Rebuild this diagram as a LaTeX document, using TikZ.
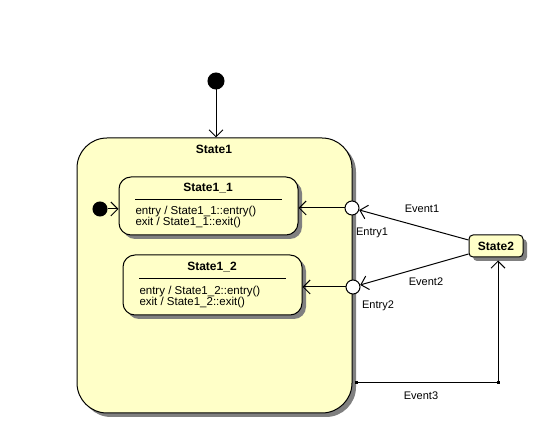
\documentclass[tikz,border=0pt]{standalone}
\usepackage{fontspec}
\setmainfont{Liberation Sans}
\usetikzlibrary{arrows.meta,shadows}
\definecolor{stfill}{RGB}{255,255,200}
\definecolor{shgray}{RGB}{128,128,128}
\begin{document}
\begin{tikzpicture}[x=1pt,y=-1pt,line width=1pt,
  font=\fontsize{11}{11}\selectfont,
  state/.style={draw, fill=stfill, inner sep=0pt,
    drop shadow={shadow xshift=4pt, shadow yshift=-4pt, fill=shgray, opacity=1}},
  title/.style={font=\fontsize{12}{12}\selectfont\bfseries},
  body/.style={anchor=west, align=left, inner sep=0pt, font=\fontsize{11.5}{11}\selectfont},
  initdot/.style={circle, fill=black, draw, inner sep=0pt},
  entrypt/.style={circle, fill=white, draw, minimum size=14pt, inner sep=0pt},
  arr/.style={-{Straight Barb[length=7pt,width=14pt]}},
  lbl/.style={inner sep=0pt}]
\useasboundingbox (0,0) rectangle (539,430);
% states
\node[state, rounded corners=30pt, minimum width=275pt, minimum height=275pt] (s1) at (214.5,275.5) {};
\node[title] (t1) at (214,149) {State1};
\node[state, rounded corners=12pt, minimum width=179pt, minimum height=58pt] (s11) at (208.5,206) {};
\node[title] (t11) at (208,188) {State1\_1};
\draw (135,200) -- (282,200);
\node[body] (b11) at (135,217.5) {entry / State1\_1::entry()\\exit / State1\_1::exit()};
\node[state, rounded corners=12pt, minimum width=179pt, minimum height=60pt] (s12) at (212.5,285) {};
\node[title] (t12) at (212,267) {State1\_2};
\draw (139,279) -- (286,279);
\node[body] (b12) at (139,297) {entry / State1\_2::entry()\\exit / State1\_2::exit()};
\node[state, rounded corners=4pt, minimum width=54pt, minimum height=22pt, title] (s2) at (496,246) {State2};
% pseudo states
\node[initdot, minimum size=16pt] (i0) at (216,81) {};
\node[initdot, minimum size=14pt] (i1) at (100,209) {};
\node[entrypt] (e1) at (352,208) {};
\node[entrypt] (e2) at (353,287) {};
\coordinate (c1) at (356,383);
\coordinate (c2) at (498,383);
% connectors
\draw[arr] (i0) -- (i0 |- s1.north);
\draw[arr] (i1) -- (i1 -| s11.west);
\draw[arr] (e1) -- (e1 -| s11.east);
\draw[arr] (e2) -- (e2 -| s12.east);
\draw[arr] ([yshift=6pt]s2.west) -- (e1);
\draw[arr] ([yshift=-8pt]s2.west) -- (e2);
\draw[arr] (c1) -- (c2) -- ([yshift=-3pt]c2 |- s2.south);
\fill (c1) +(-1.5,-1.5) rectangle +(1.5,1.5);
\fill (c2) +(-1.5,-1.5) rectangle +(1.5,1.5);
% labels
\node[lbl] (l1) at (422,209) {Event1};
\node[lbl] (l2) at (426,282) {Event2};
\node[lbl] (l3) at (421,396) {Event3};
\node[lbl] (l4) at (372,233) {Entry1};
\node[lbl] (l5) at (378,306) {Entry2};
\end{tikzpicture}
\end{document}
